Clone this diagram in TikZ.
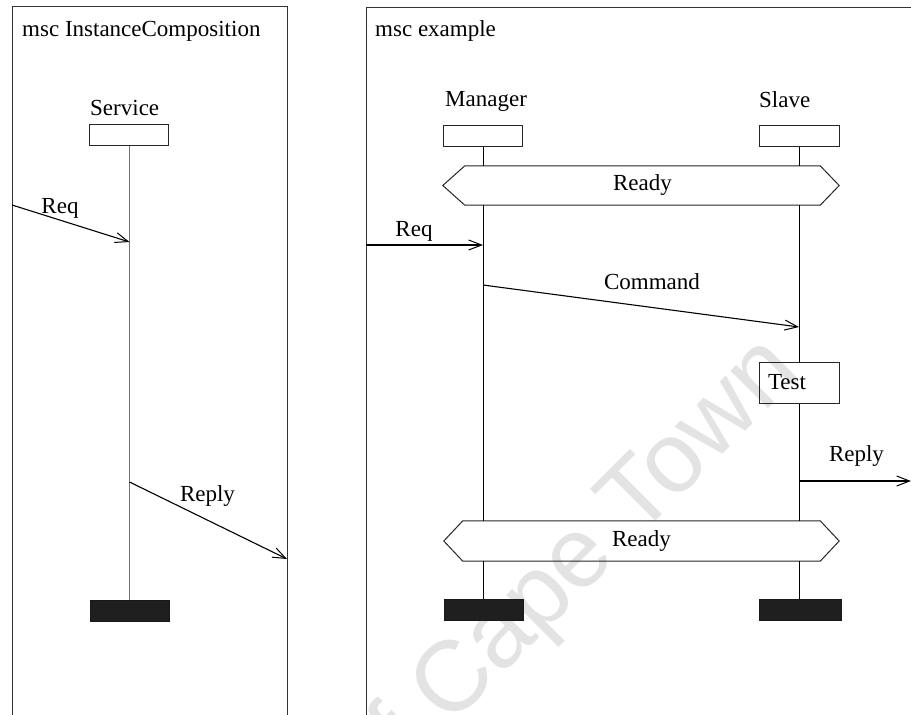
\documentclass[tikz,border=0pt]{standalone}
\usepackage{fontspec}
\setmainfont{Liberation Serif}
\newfontfamily\markfont{Liberation Sans}
\usetikzlibrary{arrows.meta,calc}

\tikzset{
  frameline/.style={draw=black!80, line width=1pt},
  lifeline/.style={draw=black, line width=0.9pt},
  softlife/.style={draw=black!55, line width=1pt},
  headbox/.style={draw=black!85, line width=1pt, minimum width=79pt, minimum height=21pt, inner sep=0pt},
  endbox/.style={draw=black!90, fill=black!88, minimum width=79pt, minimum height=21pt, inner sep=0pt},
  condbox/.style={minimum height=39pt, inner sep=0pt},
  condline/.style={draw=black!85, line width=1pt},
  actbox/.style={draw=black!85, line width=1pt, minimum height=41pt, text width=62pt, inner xsep=9pt, align=left},
  msg/.style={draw=black, line width=1.1pt, -{Straight Barb[length=13pt,width=10pt,line width=1pt]}},
  lbl/.style={font=\fontsize{23}{27}\selectfont, inner sep=0pt},
  title/.style={font=\fontsize{23}{27}\selectfont, inner sep=0pt, anchor=base west},
  stampfont/.style={text=black!11, font=\markfont\fontsize{100}{112}\selectfont, inner sep=0pt}
}

\begin{document}
\begin{tikzpicture}[x=1pt,y=-1pt]
  \useasboundingbox (0,0) rectangle (911,715);
  \fill[white] (0,0) rectangle (911,715);

  % faint stamp across the right chart
  \begin{scope}
    \clip (0,0) rectangle (911,715);
    \node[stampfont, rotate=45, anchor=base east] (stamp) at (803,374) {of Cape Town};
  \end{scope}

  % ---------- left chart ----------
  \draw[frameline] (12,716) -- (12,6) -- (287,6) -- (287,716);
  \node[title] (t1) at (22,36) {msc InstanceComposition};

  \node[lbl, anchor=base west] (svcname) at (90,115) {Service};
  \node[headbox] (svc) at (129,134.5) {};
  \node[endbox] (svcend) at (129.5,610.5) {};
  \coordinate (vx) at (129.5,0);
  \draw[softlife] (svc.south -| vx) -- (vx |- svcend.north);

  \coordinate (inL) at (12,205);
  \coordinate (svcReq) at (129.5,242);
  \coordinate (svcRep) at (129.5,482);
  \coordinate (outL) at (287,559);
  \draw[msg] (inL) -- (svcReq);
  \node[lbl, anchor=base] (reqL) at (60,213) {Req};
  \draw[msg] (svcRep) -- (outL);
  \node[lbl, anchor=base] (repL) at (207.5,501) {Reply};

  % ---------- right chart ----------
  \draw[frameline] (366,716) -- (366,7) -- (912,7);
  \node[title] (t2) at (375,36) {msc example};

  \node[lbl, anchor=base west] (mgrname) at (445,106) {Manager};
  \node[lbl, anchor=base west] (slvname) at (759,107) {Slave};
  \node[headbox] (mgr) at (482.5,135.5) {};
  \node[headbox, minimum width=80pt] (slv) at (799,136) {};

  \node[endbox] (mgrend) at (483.5,609.5) {};
  \node[endbox, minimum width=82pt] (slvend) at (800,609.5) {};

  % conditions (hexagons)
  \node[condbox, minimum width=355pt] (rdy1) at (642.5,185.5) {};
  \draw[condline] (rdy1.north west) -- (rdy1.north east) -- ($(rdy1.east)+(19,0)$)
        -- (rdy1.south east) -- (rdy1.south west) -- ($(rdy1.west)+(-22,0)$) -- cycle;
  \node[lbl] (rdy1t) at (rdy1.center) {Ready};

  \node[condbox, minimum width=357pt, minimum height=40pt] (rdy2) at (641.5,541) {};
  \draw[condline] (rdy2.north west) -- (rdy2.north east) -- ($(rdy2.east)+(19,0)$)
        -- (rdy2.south east) -- (rdy2.south west) -- ($(rdy2.west)+(-19,0)$) -- cycle;
  \node[lbl] (rdy2t) at (rdy2.center) {Ready};

  % action
  \node[actbox, font=\fontsize{23}{27}\selectfont] (test) at (799,382.5) {Test};

  % lifelines
  \coordinate (mx) at (483,0);
  \coordinate (sx) at (799,0);
  \draw[lifeline] (mgr.south -| mx) -- (mx |- rdy1.north);
  \draw[lifeline] (mx |- rdy1.south) -- (mx |- rdy2.north);
  \draw[lifeline] (mx |- rdy2.south) -- (mx |- mgrend.north);
  \draw[lifeline] (slv.south -| sx) -- (sx |- rdy1.north);
  \draw[lifeline] (sx |- rdy1.south) -- (test.north);
  \draw[lifeline] (test.south) -- (sx |- rdy2.north);
  \draw[lifeline] (sx |- rdy2.south) -- (sx |- slvend.north);

  % messages
  \coordinate (inR) at (366,245);
  \coordinate (mgrReq) at (483,245);
  \coordinate (mgrCmd) at (483,285);
  \coordinate (slvCmd) at (799,327);
  \coordinate (slvRep) at (799,481);
  \coordinate (outR) at (911,481);
  \draw[msg] (inR) -- (mgrReq);
  \node[lbl, anchor=base] (reqR) at (414,236) {Req};
  \draw[msg] (mgrCmd) -- (slvCmd);
  \node[lbl, anchor=base] (cmd) at (652,289) {Command};
  \draw[msg] (slvRep) -- (outR);
  \node[lbl, anchor=base] (repR) at (856.5,461) {Reply};
\end{tikzpicture}
\end{document}
